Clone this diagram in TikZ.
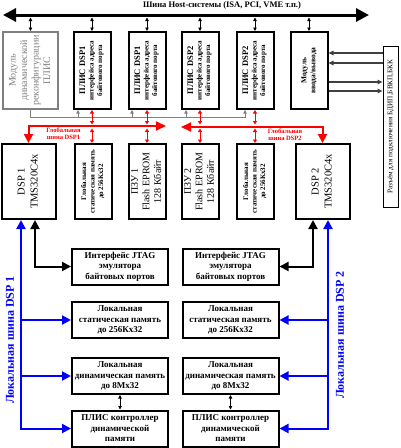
\documentclass[tikz,border=0pt]{standalone}
\usepackage{fontspec}
\setmainfont{Liberation Serif}
\usetikzlibrary{arrows.meta}
\newcommand{\rt}[1]{\rotatebox{90}{\begin{tabular}{@{}c@{}}#1\end{tabular}}}
\newcommand{\fsz}[2]{\fontsize{#1}{#2}\selectfont}
\definecolor{busred}{RGB}{255,0,0}
\definecolor{busblue}{RGB}{0,0,255}
\definecolor{gline}{RGB}{128,128,128}
\tikzset{
  box/.style={draw, line width=2pt, inner sep=0pt, align=center},
  topbox/.style={box, minimum width=37pt, minimum height=77pt, font=\fsz{7}{8.5}\bfseries},
  gmembox/.style={box, minimum width=37pt, minimum height=75pt, font=\fsz{7}{8.5}\bfseries},
  rombox/.style={box, minimum width=37pt, minimum height=75pt, font=\fsz{10}{11.5}},
  dspbox/.style={box, minimum width=54pt, minimum height=75pt, font=\fsz{10.5}{13}},
  lowbox/.style={box, minimum width=96pt, minimum height=36pt, font=\fsz{9}{10.5}\bfseries},
  grbox/.style={draw=gline, line width=2pt, inner sep=0pt, text=gline, minimum width=55pt, minimum height=77pt, font=\fsz{10}{11.5}},
  conbox/.style={draw, line width=1pt, inner sep=0pt, minimum width=15pt, minimum height=161pt, font=\fsz{7.2}{9}},
  hbus/.style={line width=3pt, {Triangle[length=13pt,width=13pt]}-{Triangle[length=13pt,width=13pt]}},
  sarr/.style={line width=0.8pt, {Triangle[length=3.5pt,width=3.5pt]}-{Triangle[length=3.5pt,width=3.5pt]}},
  garr/.style={draw=gline, line width=0.9pt, -{Triangle[length=3.5pt,width=3.5pt]}},
  rbus/.style={draw=busred, line width=2pt, {Triangle[length=9pt,width=9pt]}-{Triangle[length=10pt,width=9pt]}},
  rarr/.style={draw=busred, line width=1pt, {Triangle[length=3.5pt,width=4pt]}-{Triangle[length=3.5pt,width=4pt]}},
  bbus/.style={draw=busblue, line width=2pt},
  btip/.style={-{Triangle[length=9pt,width=9pt]}},
  karr/.style={line width=2pt, {Triangle[length=9pt,width=9pt]}-{Triangle[length=9pt,width=9pt]}},
  iarr/.style={draw=black!75, line width=1.2pt, -{Triangle[length=5pt,width=4.5pt]}},
  rlab/.style={text=busred, align=center, font=\fsz{6.5}{7}\bfseries, inner sep=0pt},
  blab/.style={text=busblue, rotate=90, font=\fsz{12}{14}\bfseries, inner sep=0pt},
}
\begin{document}
\begin{tikzpicture}[x=1pt,y=-1pt]
\useasboundingbox (0,0) rectangle (400,448);

% host bus
\coordinate (hL) at (3,15);
\coordinate (hR) at (369,15);
\coordinate (hb) at (0,17.5);
\draw[hbus] (hL) -- (hR);
\node[font=\fsz{8.5}{10}\bfseries, inner sep=0pt] (htitle) at (222,5) {Шина Host-системы (ISA, PCI, VME т.п.)};

% top row
\node[grbox] (dyn) at (30.5,70.5) {\rt{Модуль\\динамической\\реконфигурации\\ПЛИС}};
\node[topbox] (p1) at (92,70.5) {\rt{{\fsz{8.5}{9}ПЛИС DSP1}\\интерфейса адреса\\байтового порта}};
\node[topbox] (p2) at (147,70.5) {\rt{{\fsz{8.5}{9}ПЛИС DSP1}\\интерфейса адреса\\байтового порта}};
\node[topbox] (p3) at (200,70.5) {\rt{{\fsz{8.5}{9}ПЛИС DSP2}\\интерфейса адреса\\байтового порта}};
\node[topbox] (p4) at (255,70.5) {\rt{{\fsz{8.5}{9}ПЛИС DSP2}\\интерфейса адреса\\байтового порта}};
\node[topbox, font=\fsz{7.5}{9}\bfseries] (io) at (309,70.5) {\rt{Модуль\\ввода/вывода}};

\foreach \n in {dyn,p1,p2,p3,p4,io} \draw[sarr] (\n.north) -- (\n.north |- hb);

% connector
\node[conbox] (con) at (390.5,126.5) {\rt{Разъём для подключения БДИП,БВКП,БКК}};
\coordinate (c1) at (0,53);
\coordinate (c2) at (0,63);
\coordinate (c3) at (0,82);
\coordinate (c4) at (0,91);
\draw[iarr] (con.west |- c1) -- (io.east |- c1);
\draw[iarr] (con.west |- c2) -- (io.east |- c2);
\draw[iarr] (io.east |- c3) -- (con.west |- c3);
\draw[iarr] (io.east |- c4) -- (con.west |- c4);

% second row
\node[dspbox] (dsp1) at (28.5,181.5) {\rt{DSP 1\\TMS320C4x}};
\node[gmembox] (g1) at (93,181.5) {\rt{Глобальная\\статическая память\\до 256Кх32}};
\node[rombox] (rom1) at (147,181.5) {\rt{ПЗУ 1\\Flash EPROM\\128 Кбайт}};
\node[rombox] (rom2) at (200,181.5) {\rt{ПЗУ 2\\Flash EPROM\\128 Кбайт}};
\node[gmembox] (g2) at (255,181.5) {\rt{Глобальная\\статическая память\\до 256Кх32}};
\node[dspbox] (dsp2) at (322.5,181.5) {\rt{DSP 2\\TMS320C4x}};

% gray configuration line
\coordinate (gy) at (0,117);
\path ([xshift=-14pt]p1.south) coordinate (ga1);
\path ([xshift=-15pt]p2.south) coordinate (ga2);
\path ([xshift=-14pt]p3.south) coordinate (ga3);
\path ([xshift=-10pt]p4.south) coordinate (ga4);
\draw[garr] (dyn.south) -- (dyn.south |- gy) -| (ga4);
\draw[garr] (ga1 |- gy) -- (ga1);
\draw[garr] (ga2 |- gy) -- (ga2);
\draw[garr] (ga3 |- gy) -- (ga3);

% red global buses
\coordinate (r1) at (0,126);
\coordinate (r1e) at (166,126);
\coordinate (r2) at (0,127);
\coordinate (r2e) at (181,127);
\coordinate (ra) at (0,124.5);
\coordinate (rb) at (0,128.5);
\draw[rbus] (dsp1.north) -- (dsp1.north |- r1) -- (r1e);
\draw[rbus] (dsp2.north) -- (dsp2.north |- r2) -- (r2e);
\foreach \a/\b in {p1/g1,p2/rom1,p3/rom2,p4/g2} {
  \draw[rarr] (\a.south) -- (\a.south |- ra);
  \draw[rarr] (\a.south |- rb) -- (\a.south |- \b.north);
}
\node[rlab] (lab1) at (63.5,133.5) {Глобальная\\шина DSP1};
\node[rlab] (lab2) at (285,135) {Глобальная\\шина DSP2};

% lower boxes
\node[lowbox] (jt1) at (120,266.5) {Интерфейс JTAG\\эмулятора\\байтовых портов};
\node[lowbox] (ls1) at (120,320) {Локальная\\статическая память\\до 256Кх32};
\node[lowbox] (ld1) at (120,376) {Локальная\\динамическая память\\до 8Мх32};
\node[lowbox] (lc1) at (120,428.5) {ПЛИС контроллер\\динамической\\памяти};
\node[lowbox] (jt2) at (230.5,266.5) {Интерфейс JTAG\\эмулятора\\байтовых портов};
\node[lowbox] (ls2) at (230.5,320) {Локальная\\статическая память\\до 256Кх32};
\node[lowbox] (ld2) at (230.5,376) {Локальная\\динамическая память\\до 8Мх32};
\node[lowbox] (lc2) at (230.5,428.5) {ПЛИС контроллер\\динамической\\памяти};

\draw[sarr] (ld1.south) -- (lc1.north);
\draw[sarr] (ld2.south) -- (lc2.north);

% JTAG connections
\coordinate (k1) at (35,0);
\coordinate (k2) at (313,0);
\draw[karr] (k1 |- dsp1.south) |- (jt1.west);
\draw[karr] (k2 |- dsp2.south) |- (jt2.east);

% blue local buses
\coordinate (b1) at (21,0);
\coordinate (b2) at (328,0);
\draw[bbus, {Triangle[length=9pt,width=9pt]}-{Triangle[length=9pt,width=9pt]}] (b1 |- dsp1.south) |- (lc1.west);
\draw[bbus, btip] (b1 |- ls1.west) -- (ls1.west);
\draw[bbus, btip] (b1 |- ld1.west) -- (ld1.west);
\draw[bbus, {Triangle[length=9pt,width=9pt]}-{Triangle[length=9pt,width=9pt]}] (b2 |- dsp2.south) |- (lc2.east);
\draw[bbus, btip] (b2 |- ls2.east) -- (ls2.east);
\draw[bbus, btip] (b2 |- ld2.east) -- (ld2.east);
\node[blab] (bl1) at (10,340) {Локальная шина DSP 1};
\node[blab] (bl2) at (340,335) {Локальная шина DSP 2};
\end{tikzpicture}
\end{document}
